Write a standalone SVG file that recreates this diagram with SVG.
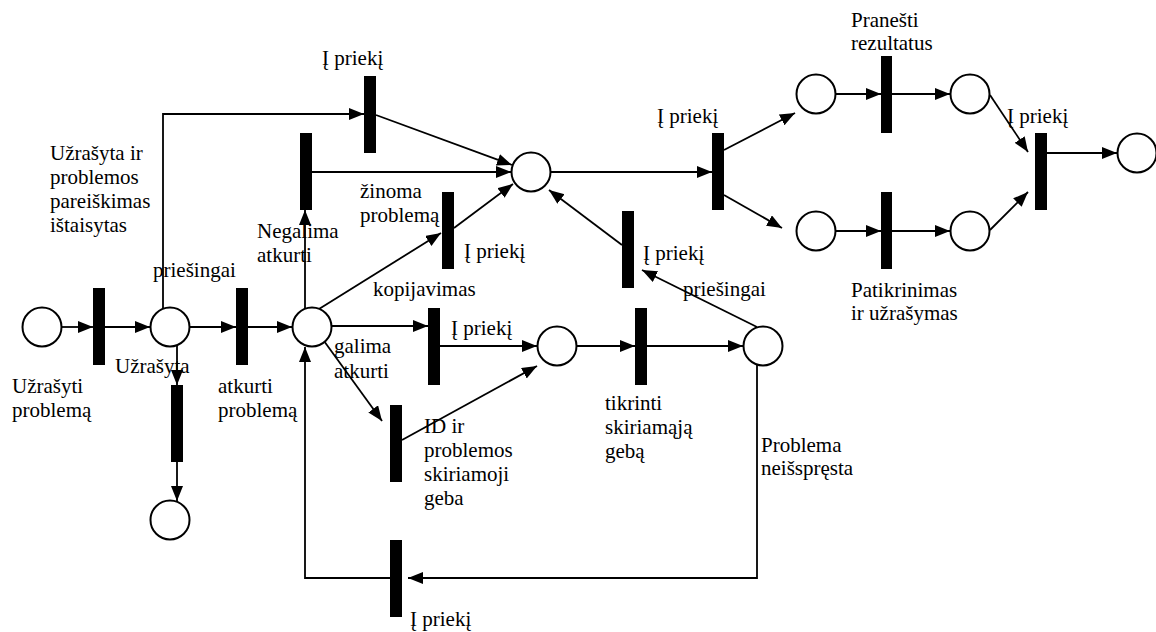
<svg xmlns="http://www.w3.org/2000/svg" width="1156" height="632" viewBox="0 0 1156 632" font-family="'Liberation Serif', 'Times New Roman', serif" font-size="21">
  <style>
    .place { fill: #fff; stroke: #000; stroke-width: 2; }
    .trans { fill: #000; }
    .arc { fill: none; stroke: #000; stroke-width: 1.8; }
    .arr { marker-end: url(#head); }
    text { font-family: 'Liberation Serif', 'Times New Roman', serif; font-size: 21px; fill: #000; }
  </style>
  <defs>
    <marker id="head" markerUnits="userSpaceOnUse" markerWidth="16" markerHeight="14" refX="15" refY="6" orient="auto">
      <path d="M0,0 L15,6 L0,12 Z" fill="#000"/>
    </marker>
  </defs>
  <rect width="1156" height="632" fill="#fff"/>

  <!-- connectors -->
  <g id="connectors">
    <path class="arc arr" d="M62,327 H93"/>
    <path class="arc arr" d="M105,327 H150"/>
    <path class="arc arr" d="M190,327 H236"/>
    <path class="arc arr" d="M248,327 H292"/>
    <path class="arc arr" d="M177,345 V385"/>
    <path class="arc arr" d="M177,462 V501"/>
    <path class="arc arr" d="M163,308 V114 H364"/>
    <path class="arc arr" d="M376,115 L512,165"/>
    <path class="arc arr" d="M305,308 V210"/>
    <path class="arc arr" d="M312,172 H511"/>
    <path class="arc arr" d="M319,309 L441,233"/>
    <path class="arc arr" d="M454,228 L513,184"/>
    <path class="arc arr" d="M332,326 H428"/>
    <path class="arc arr" d="M440,346 H537"/>
    <path class="arc arr" d="M324,341 L382,421"/>
    <path class="arc arr" d="M402,440 L537,366"/>
    <path class="arc arr" d="M577,346 H635"/>
    <path class="arc arr" d="M647,346 H743"/>
    <path class="arc arr" d="M757,327 L642,270"/>
    <path class="arc arr" d="M622,245 L549,190"/>
    <path class="arc arr" d="M551,172 H712"/>
    <path class="arc arr" d="M724,150 L795,113"/>
    <path class="arc arr" d="M724,195 L782,228"/>
    <path class="arc arr" d="M836,94 H881"/>
    <path class="arc arr" d="M892,94 H950"/>
    <path class="arc arr" d="M836,231 H881"/>
    <path class="arc arr" d="M892,231 H950"/>
    <path class="arc arr" d="M990,95 L1028,152"/>
    <path class="arc arr" d="M990,230 L1028,192"/>
    <path class="arc arr" d="M1047,153 H1117"/>
    <path class="arc arr" d="M757,365 V578 H408"/>
    <path class="arc arr" d="M390,578 H305 V347"/>
  </g>

  <!-- places -->
  <g id="p-start"><circle class="place" cx="42" cy="327" r="19.5"/></g>
  <g id="p-recorded"><circle class="place" cx="170" cy="327" r="19.5"/></g>
  <g id="p-reproduce"><circle class="place" cx="312" cy="327" r="19.5"/></g>
  <g id="p-dead"><circle class="place" cx="170" cy="520" r="19.5"/></g>
  <g id="p-center"><circle class="place" cx="531" cy="172" r="19.5"/></g>
  <g id="p-middle"><circle class="place" cx="557" cy="346" r="19.5"/></g>
  <g id="p-check"><circle class="place" cx="763" cy="346" r="19.5"/></g>
  <g id="p-upper1"><circle class="place" cx="816" cy="94" r="19.5"/></g>
  <g id="p-upper2"><circle class="place" cx="970" cy="94" r="19.5"/></g>
  <g id="p-lower1"><circle class="place" cx="816" cy="231" r="19.5"/></g>
  <g id="p-lower2"><circle class="place" cx="970" cy="231" r="19.5"/></g>
  <g id="p-end"><circle class="place" cx="1137" cy="153" r="19.5"/></g>

  <!-- transitions -->
  <g id="t-record"><rect class="trans" x="93" y="288" width="12" height="77"/>
    <text x="12" y="393">Užrašyti</text><text x="12" y="417">problemą</text></g>
  <g id="t-reproduce"><rect class="trans" x="236" y="288" width="12" height="77"/>
    <text x="218" y="393">atkurti</text><text x="218" y="417">problemą</text></g>
  <g id="t-recorded"><rect class="trans" x="171" y="385" width="12" height="77"/>
    <text x="115" y="373">Užrašyta</text></g>
  <g id="t-top"><rect class="trans" x="364" y="76" width="12" height="77"/>
    <text x="322" y="65">Į priekį</text></g>
  <g id="t-cannot"><rect class="trans" x="300" y="133" width="12" height="77"/>
    <text x="257" y="238">Negalima</text><text x="257" y="262">atkurti</text></g>
  <g id="t-known"><rect class="trans" x="442" y="192" width="12" height="77"/>
    <text x="464" y="258">Į priekį</text></g>
  <g id="t-copy"><rect class="trans" x="428" y="308" width="12" height="77"/>
    <text x="451" y="335">Į priekį</text></g>
  <g id="t-id"><rect class="trans" x="390" y="405" width="12" height="77"/>
    <text x="424" y="433">ID ir</text><text x="424" y="457">problemos</text>
    <text x="424" y="481">skiriamoji</text><text x="424" y="505">geba</text></g>
  <g id="t-verify"><rect class="trans" x="635" y="308" width="12" height="77"/>
    <text x="605" y="410">tikrinti</text><text x="605" y="434">skiriamąją</text><text x="605" y="458">gebą</text></g>
  <g id="t-back"><rect class="trans" x="622" y="211" width="12" height="77"/>
    <text x="643" y="260">Į priekį</text></g>
  <g id="t-fork"><rect class="trans" x="712" y="133" width="12" height="77"/>
    <text x="657" y="123">Į priekį</text></g>
  <g id="t-report"><rect class="trans" x="881" y="56" width="11" height="77"/>
    <text x="851" y="27">Pranešti</text><text x="851" y="50">rezultatus</text></g>
  <g id="t-inspect"><rect class="trans" x="881" y="192" width="11" height="77"/>
    <text x="851" y="297">Patikrinimas</text><text x="851" y="320">ir užrašymas</text></g>
  <g id="t-join"><rect class="trans" x="1035" y="133" width="12" height="77"/>
    <text x="1007" y="123">Į priekį</text></g>
  <g id="t-loop"><rect class="trans" x="390" y="540" width="12" height="77"/>
    <text x="410" y="626">Į priekį</text></g>

  <!-- arc labels -->
  <g id="labels">
    <text x="50" y="160">Užrašyta ir</text>
    <text x="50" y="184">problemos</text>
    <text x="50" y="208">pareiškimas</text>
    <text x="50" y="232">ištaisytas</text>
    <text x="153" y="277">priešingai</text>
    <text x="360" y="198">žinoma</text>
    <text x="360" y="222">problemą</text>
    <text x="373" y="296">kopijavimas</text>
    <text x="334" y="353">galima</text>
    <text x="334" y="378">atkurti</text>
    <text x="683" y="296">priešingai</text>
    <text x="761" y="452">Problema</text>
    <text x="761" y="475">neišspręsta</text>
  </g>
</svg>
